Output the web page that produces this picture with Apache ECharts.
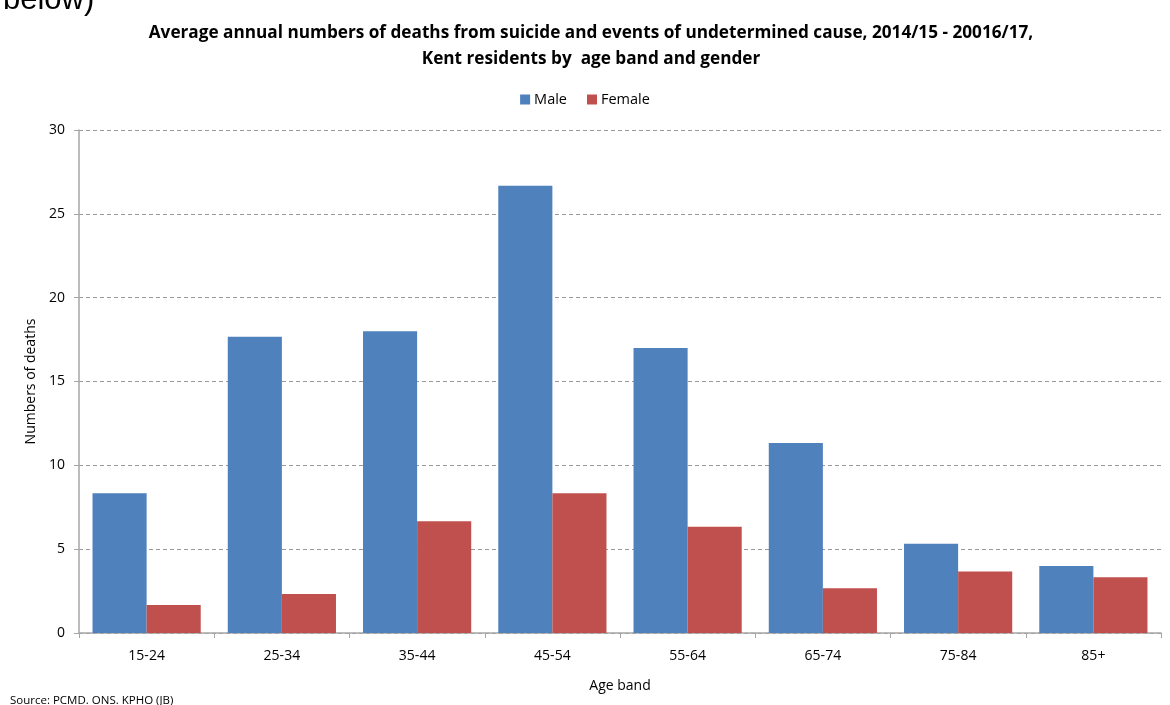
<!DOCTYPE html>
<html>
<head>
<meta charset="utf-8">
<script src="https://cdn.jsdelivr.net/npm/echarts@6/dist/echarts.min.js"></script>
<style>
  html, body { margin: 0; padding: 0; background: #fff; }
  #chart { width: 1170px; height: 705px; }
</style>
</head>
<body>
<div id="chart"></div>
<script>
// Age bands and average annual deaths (3-year average) by gender
const ageBands = ['15-24', '25-34', '35-44', '45-54', '55-64', '65-74', '75-84', '85+'];
const maleDeaths = [8.33, 17.67, 18.0, 26.67, 17.0, 11.33, 5.33, 4.0];
const femaleDeaths = [1.67, 2.33, 6.67, 8.33, 6.33, 2.67, 3.67, 3.33];
const seriesNames = ['Male', 'Female'];

const FONT = '"Open Sans", "Noto Sans", sans-serif';
const chart = echarts.init(document.getElementById('chart'), null, { renderer: 'canvas' });

chart.setOption({
  backgroundColor: '#ffffff',
  animation: false,
  title: [
    {
      text: 'Average annual numbers of deaths from suicide and events of undetermined cause, 2014/15 - 20016/17,\nKent residents by  age band and gender',
      left: 586, top: 15, textAlign: 'center',
      textStyle: { fontFamily: FONT, fontSize: 17.2, fontWeight: 'bold', color: '#000', lineHeight: 26 }
    },
    {
      text: 'below)',
      left: -2, top: -20,
      textStyle: { fontFamily: '"Liberation Sans", Arial, sans-serif', fontSize: 31, fontWeight: 'normal', color: '#000' }
    },
    {
      text: 'Source: PCMD. ONS. KPHO (JB)',
      left: 5, top: 690,
      textStyle: { fontFamily: FONT, fontSize: 11.5, fontWeight: 'normal', color: '#000' }
    }
  ],
  legend: {
    data: seriesNames,
    top: 87, left: 'center',
    itemWidth: 10, itemHeight: 10, itemGap: 20,
    icon: 'rect',
    textStyle: { fontFamily: FONT, fontSize: 14.5, color: '#000', padding: [0, 0, 0, -1] }
  },
  grid: { left: 79, right: 9, top: 130, bottom: 72 },
  xAxis: {
    type: 'category',
    data: ageBands,
    name: 'Age band',
    nameLocation: 'middle',
    nameGap: 46,
    nameTextStyle: { fontFamily: FONT, fontSize: 14, color: '#000' },
    axisLine: { lineStyle: { color: '#a6a6a6', width: 1.5 } },
    axisTick: { show: true, length: 5, lineStyle: { color: '#a6a6a6' } },
    axisLabel: { fontFamily: FONT, fontSize: 14, color: '#000', margin: 16 }
  },
  yAxis: {
    type: 'value',
    min: 0, max: 30, interval: 5,
    name: 'Numbers of deaths',
    nameLocation: 'middle',
    nameGap: 38,
    nameTextStyle: { fontFamily: FONT, fontSize: 14, color: '#000' },
    axisLine: { show: true, lineStyle: { color: '#a6a6a6', width: 1.5 } },
    axisTick: { show: true, length: 5, lineStyle: { color: '#a6a6a6' } },
    axisLabel: { fontFamily: FONT, fontSize: 14, color: '#000', margin: 14 },
    splitLine: { lineStyle: { color: '#9a9a9a', type: [4, 3], width: 1 } }
  },
  series: [
    {
      name: seriesNames[0], type: 'bar', data: maleDeaths,
      barGap: '0%', barCategoryGap: '20%',
      itemStyle: { color: '#4F81BD' }
    },
    {
      name: seriesNames[1], type: 'bar', data: femaleDeaths,
      barGap: '0%', barCategoryGap: '20%',
      itemStyle: { color: '#C0504D' }
    }
  ]
});
</script>
</body>
</html>
